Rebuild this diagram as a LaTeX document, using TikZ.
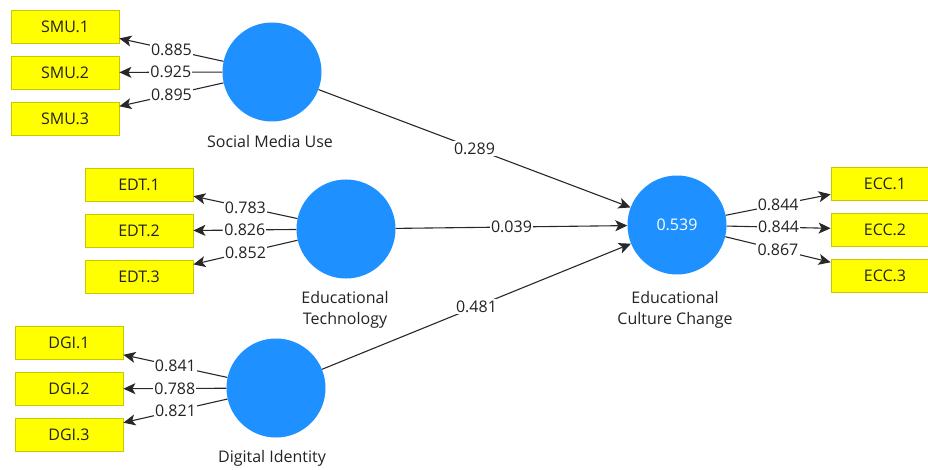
\documentclass[tikz,border=0pt]{standalone}
\usepackage{fontspec}
\setmainfont{Open Sans}
\usetikzlibrary{arrows.meta}
\definecolor{lvblue}{RGB}{30,144,255}
\definecolor{boxyellow}{RGB}{255,255,0}
\definecolor{boxedge}{RGB}{200,200,0}
\definecolor{linegray}{RGB}{40,40,40}
\definecolor{txt}{RGB}{35,35,35}
\begin{document}
\begin{tikzpicture}[x=1pt,y=-1pt,
  ind/.style={draw=boxedge, line width=0.8pt, fill=boxyellow, minimum width=108pt, minimum height=33pt, inner sep=0pt, text=txt, font=\fontsize{16}{18}\selectfont},
  lv/.style={circle, fill=lvblue, minimum size=99pt, inner sep=0pt},
  lbl/.style={text=txt, align=center, font=\fontsize{16}{21}\selectfont},
  val/.style={fill=white, inner sep=1.2pt, text=txt, font=\fontsize{16}{18}\selectfont},
  con/.style={draw=linegray, line width=1.1pt, -{Stealth[length=12pt,width=11pt,inset=3pt]}}
]
\useasboundingbox (0,0) rectangle (928,470);
% indicators
\node[ind] (smu1) at (65,26.5) {SMU.1};
\node[ind] (smu2) at (65,72.5) {SMU.2};
\node[ind] (smu3) at (65,118.5) {SMU.3};
\node[ind] (edt1) at (139,184.5) {EDT.1};
\node[ind] (edt2) at (139,231) {EDT.2};
\node[ind] (edt3) at (139,277) {EDT.3};
\node[ind] (dgi1) at (69,343) {DGI.1};
\node[ind] (dgi2) at (69,389) {DGI.2};
\node[ind] (dgi3) at (69,435) {DGI.3};
\node[ind] (ecc1) at (885,183.5) {ECC.1};
\node[ind] (ecc2) at (885,229.5) {ECC.2};
\node[ind] (ecc3) at (885,275.5) {ECC.3};
% latent variables
\node[lv] (smu) at (272,72) {};
\node[lv] (edt) at (346,229) {};
\node[lv] (dgi) at (276,388) {};
\node[lv, text=white, font=\fontsize{16}{18}\selectfont] (ecc) at (677,225) {0.539};
\node[lbl] (smul) at (270,142) {Social Media Use};
\node[lbl] (edtl) at (345,310) {Educational\\Technology};
\node[lbl] (dgil) at (272,458) {Digital Identity};
\node[lbl] (eccl) at (675,310) {Educational\\Culture Change};
% outer loadings
\draw[con] (smu) -- node[val]{0.885} (smu1);
\draw[con] (smu) -- node[val]{0.925} (smu2);
\draw[con] (smu) -- node[val]{0.895} (smu3);
\draw[con] (edt) -- node[val]{0.783} (edt1);
\draw[con] (edt) -- node[val]{0.826} (edt2);
\draw[con] (edt) -- node[val]{0.852} (edt3);
\draw[con] (dgi) -- node[val]{0.841} (dgi1);
\draw[con] (dgi) -- node[val]{0.788} (dgi2);
\draw[con] (dgi) -- node[val]{0.821} (dgi3);
\draw[con] (ecc) -- node[val]{0.844} (ecc1);
\draw[con] (ecc) -- node[val]{0.844} (ecc2);
\draw[con] (ecc) -- node[val]{0.867} (ecc3);
% paths
\draw[con] (smu) -- node[val]{0.289} (ecc);
\draw[con] (edt) -- node[val]{0.039} (ecc);
\draw[con] (dgi) -- node[val]{0.481} (ecc);
\end{tikzpicture}
\end{document}
